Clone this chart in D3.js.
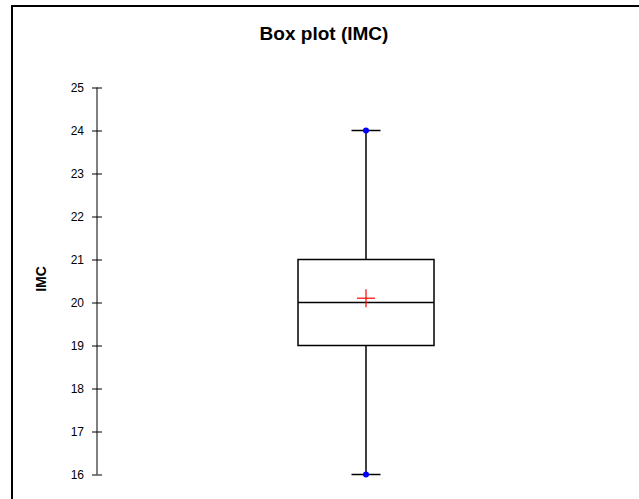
<!DOCTYPE html>
<html>
<head>
  <script src="https://d3js.org/d3.v7.min.js"></script>
  <style>
    body { margin: 0; background: #fff; }
    .chart { font-family: "Liberation Sans", Arial, sans-serif; }
    .title { font-size: 19px; font-weight: bold; }
    .axis-label { font-size: 14px; font-weight: bold; }
    .axis text { font-size: 12px; }
  </style>
</head>
<body>
  <div id="viz"></div>
  <script>
    // data
    const variable = "IMC";
    const yTicks = [16, 17, 18, 19, 20, 21, 22, 23, 24, 25];
    const stats = { min: 16, q1: 19, median: 20, q3: 21, max: 24, mean: 20.1 };

    const W = 639, H = 499;
    const svg = d3.select("#viz").append("svg")
      .attr("class", "chart")
      .attr("width", W)
      .attr("height", H);

    // outer frame (cut off on the right and bottom)
    svg.append("rect")
      .attr("x", 12).attr("y", 6)
      .attr("width", 700).attr("height", 600)
      .attr("fill", "none")
      .attr("stroke", "#000")
      .attr("stroke-width", 2);

    svg.append("text")
      .attr("class", "title")
      .attr("x", 324).attr("y", 40)
      .attr("text-anchor", "middle")
      .text(`Box plot (${variable})`);

    const y = d3.scaleLinear().domain([16, 25]).range([474.5, 87.5]);
    const x = d3.scaleBand().domain([variable]).range([230, 502]).padding(1 / 3);
    const axisX = 97;

    // y axis with ticks crossing the line
    const axis = svg.append("g").attr("class", "axis");
    axis.append("line")
      .attr("x1", axisX).attr("x2", axisX)
      .attr("y1", y(25)).attr("y2", y(16))
      .attr("stroke", "#000");
    axis.selectAll(".tick").data(yTicks).join("line")
      .attr("x1", axisX - 5).attr("x2", axisX + 5)
      .attr("y1", d => y(d) + 0.5).attr("y2", d => y(d) + 0.5)
      .attr("stroke", "#000");
    axis.selectAll("text").data(yTicks).join("text")
      .attr("x", 84).attr("y", d => y(d))
      .attr("dy", "0.35em")
      .attr("text-anchor", "end")
      .text(d => d);

    svg.append("text")
      .attr("class", "axis-label")
      .attr("transform", `translate(46,${(y(25) + y(16)) / 2 - 2}) rotate(-90)`)
      .attr("text-anchor", "middle")
      .text(variable);

    // box
    const bx = x(variable), bw = x.bandwidth(), cx = bx + bw / 2;
    const g = svg.append("g").attr("stroke", "#000").attr("stroke-width", 1.5).attr("fill", "none");
    g.append("line").attr("x1", cx).attr("x2", cx).attr("y1", y(stats.max)).attr("y2", y(stats.q3));
    g.append("line").attr("x1", cx).attr("x2", cx).attr("y1", y(stats.q1)).attr("y2", y(stats.min));
    g.append("rect")
      .attr("x", bx).attr("y", y(stats.q3))
      .attr("width", bw).attr("height", y(stats.q1) - y(stats.q3));
    g.append("line").attr("x1", bx).attr("x2", bx + bw).attr("y1", y(stats.median)).attr("y2", y(stats.median));
    [stats.min, stats.max].forEach(v => {
      g.append("line").attr("x1", cx - 14.5).attr("x2", cx + 14.5).attr("y1", y(v)).attr("y2", y(v));
    });

    // mean marker
    const my = y(stats.mean);
    const m = svg.append("g").attr("stroke", "red").attr("stroke-width", 1.2);
    m.append("line").attr("x1", cx - 9).attr("x2", cx + 9).attr("y1", my).attr("y2", my);
    m.append("line").attr("x1", cx).attr("x2", cx).attr("y1", my - 9).attr("y2", my + 9);

    // min / max points
    svg.selectAll(".pt").data([stats.min, stats.max]).join("circle")
      .attr("cx", cx).attr("cy", d => y(d)).attr("r", 3)
      .attr("fill", "blue");
  </script>
</body>
</html>
